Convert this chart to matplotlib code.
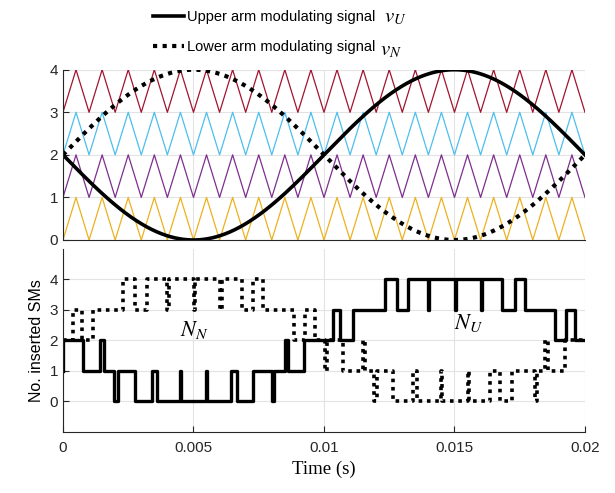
import numpy as np
import matplotlib
matplotlib.use('Agg')
import matplotlib.pyplot as plt
from matplotlib.lines import Line2D

plt.rcParams['font.family'] = ['Liberation Sans', 'DejaVu Sans']
plt.rcParams['mathtext.fontset'] = 'stix'

# modulating signals: offset + amplitude * sin(2*pi*f*t)
mod_freq = 50.0
mod_offset = 2.0
mod_amp = 2.0

# level-shifted carriers (all in phase), 1 kHz
carrier_freq = 1000.0
carrier_levels = [0, 1, 2, 3]
carrier_colors = ['#EDB120', '#7E2F8E', '#4DBEEE', '#A2142F']

# number of inserted SMs (time in ms, level)
nu_times = [0, 0.02, 0.778, 1.418, 1.571, 1.966, 2.119, 2.759, 3.410, 3.602,
            4.502, 4.540, 5.498, 5.536, 6.44, 6.67, 7.28, 7.99, 8.08, 8.51,
            8.62, 9.23, 10.36, 10.61, 11.13, 12.34, 12.79, 13.20, 13.98, 14.04,
            15.02, 15.06, 16.00, 16.05, 16.82, 17.32, 17.70, 18.85, 19.27, 19.62, 20.0]
nu_levels = [1, 2, 1, 2, 1, 0, 1, 0, 1, 0,
             1, 0, 1, 0, 1, 0, 1, 0, 1, 2,
             1, 2, 3, 2, 3, 4, 3, 4, 3, 4,
             3, 4, 3, 4, 3, 4, 3, 2, 3, 2, 2]

nn_times = [0, 0.395, 0.716, 1.161, 2.310, 2.759, 3.207, 3.973, 4.061, 5.011,
            5.057, 6.034, 6.090, 6.847, 7.291, 7.674, 8.851, 9.272, 9.655, 10.04,
            10.10, 10.73, 11.49, 11.57, 11.92, 12.03, 12.64, 13.41, 13.56, 14.49,
            14.53, 15.52, 15.56, 16.36, 16.74, 17.20, 18.08, 18.16, 18.47, 18.58,
            19.23, 20.0]
nn_levels = [2, 3, 2, 3, 4, 3, 4, 3, 4, 3,
             4, 3, 4, 3, 4, 3, 2, 3, 2, 1,
             2, 1, 2, 1, 0, 1, 0, 1, 0, 1,
             0, 1, 0, 1, 0, 1, 0, 1, 2, 1,
             2, 2]

x_ticks = [0, 0.005, 0.01, 0.015, 0.02]
x_tick_labels = ['0', '0.005', '0.01', '0.015', '0.02']

fig = plt.figure(figsize=(6.15, 4.93), dpi=100)
ax1 = fig.add_axes([0.1024, 0.5132, 0.8488, 0.3454])
ax2 = fig.add_axes([0.1024, 0.1243, 0.8488, 0.3712])

grid_col = '#e3e3e3'
spine_col = '#262626'

# top: carriers + modulating signals
t_end = 0.02
half = 0.5 / carrier_freq
tv = np.arange(0, t_end + half / 2, half)
tri = np.array([i % 2 for i in range(len(tv))], dtype=float)
for lvl, col in zip(carrier_levels, carrier_colors):
    ax1.plot(tv, tri + lvl, color=col, lw=0.9)

t = np.linspace(0, t_end, 1001)
w = 2 * np.pi * mod_freq
vu = mod_offset - mod_amp * np.sin(w * t)
vn = mod_offset + mod_amp * np.sin(w * t)
ax1.plot(t, vu, color='black', lw=2.6)
ax1.plot(t, vn, color='black', lw=3.0, linestyle=(0, (1, 1.3)))

ax1.set_xlim(0, t_end)
ax1.set_ylim(0, 4)
ax1.set_yticks([0, 1, 2, 3, 4])
ax1.set_xticks(x_ticks)
ax1.set_xticklabels([])
ax1.grid(True, color=grid_col, lw=0.8)
ax1.set_axisbelow(True)

# bottom: inserted SMs
ax2.plot(np.array(nu_times) / 1000, nu_levels, drawstyle='steps-post',
         color='black', lw=2.4)
ax2.plot(np.array(nn_times) / 1000, nn_levels, drawstyle='steps-post',
         color='black', lw=2.6, linestyle=(0, (1, 1.3)))
ax2.text(0.00448, 2.35, r'$N_N$', fontsize=16, ha='left', va='center')
ax2.text(0.01500, 2.55, r'$N_U$', fontsize=16, ha='left', va='center')

ax2.set_xlim(0, t_end)
ax2.set_ylim(-1, 5)
ax2.set_yticks([0, 1, 2, 3, 4])
ax2.set_xticks(x_ticks)
ax2.set_xticklabels(x_tick_labels)
ax2.grid(True, color=grid_col, lw=0.8)
ax2.set_axisbelow(True)
ax2.set_ylabel('No. inserted SMs', fontsize=11.5)
ax2.set_xlabel('Time (s)', fontsize=13.5, family=['Liberation Serif'])

for ax in (ax1, ax2):
    ax.spines['top'].set_visible(False)
    ax.spines['right'].set_visible(False)
    ax.spines['left'].set_color(spine_col)
    ax.spines['bottom'].set_color(spine_col)
    ax.tick_params(direction='in', length=4, labelsize=11, colors=spine_col,
                   labelcolor='#262626')
ax1.tick_params(axis='x', length=0)
ax2.tick_params(axis='x', pad=7)

handles = [Line2D([], [], color='black', lw=2.6),
           Line2D([], [], color='black', lw=3.0, linestyle=(0, (1, 1.3)))]
labels = ['Upper arm modulating signal', 'Lower arm modulating signal']
fig.legend(handles, labels, loc='upper left', bbox_to_anchor=(0.2276, 1.006),
           frameon=False, fontsize=10.5, handlelength=2.1, handletextpad=0.2,
           labelspacing=1.1)
fig.text(0.625, 0.964, r'$v_U$', fontsize=15, ha='left', va='center')
fig.text(0.618, 0.898, r'$v_N$', fontsize=15, ha='left', va='center')

fig.savefig('out.png', dpi=100)
